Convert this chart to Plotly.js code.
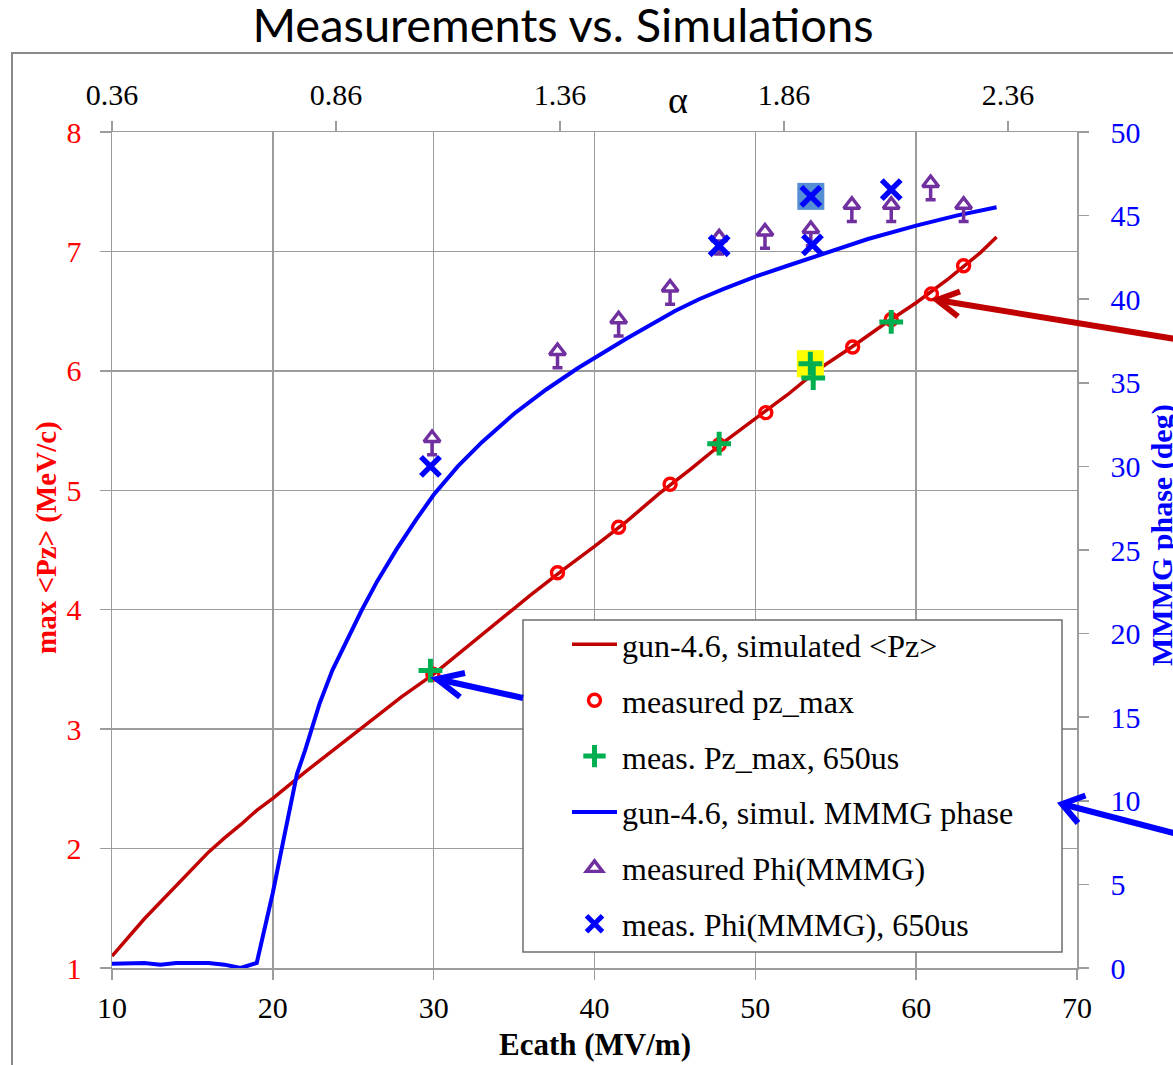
<!DOCTYPE html>
<html>
<head>
<meta charset="utf-8">
<script src="https://cdn.plot.ly/plotly-3.0.1.min.js"></script>
<style>
  html, body { margin: 0; padding: 0; background: #ffffff; }
  #chart { width: 1173px; height: 1065px; }
</style>
</head>
<body>
<div id="chart"></div>
<script>
// ---------------- data ----------------
const simE      = [10, 11, 12, 13, 14, 15, 16, 17, 18, 19, 20, 22, 24, 26, 28, 30, 32, 34, 36, 38, 40, 42, 44, 46, 48, 50, 52, 54, 56, 58, 60, 62, 64, 65];
const simPz     = [1.10, 1.26, 1.41, 1.55, 1.69, 1.83, 1.97, 2.09, 2.20, 2.32, 2.42, 2.64, 2.85, 3.06, 3.27, 3.46, 3.68, 3.90, 4.12, 4.33, 4.53, 4.74, 4.97, 5.18, 5.40, 5.60, 5.80, 6.02, 6.20, 6.39, 6.57, 6.77, 6.99, 7.12];

const simPhaseE = [10, 11, 12, 13, 14, 15, 16, 17, 18, 19, 20, 20.65, 21.5, 22, 22.9, 23.7, 24.6, 25.5, 26.5, 27.7, 28.9, 30, 31.5, 33, 35, 37, 39, 42, 45, 46.5, 48, 50, 52, 54.5, 57, 60, 62.5, 65];
const simPhase  = [0.25, 0.3, 0.3, 0.2, 0.3, 0.3, 0.3, 0.2, 0.0, 0.3, 4.5, 7.6, 11.6, 13.0, 15.8, 17.8, 19.6, 21.35, 23.15, 25.05, 26.8, 28.3, 30.0, 31.45, 33.15, 34.6, 35.9, 37.65, 39.3, 40.0, 40.6, 41.35, 42.0, 42.8, 43.6, 44.4, 45.0, 45.5];

const measPzE   = [29.95, 37.7, 41.5, 44.7, 47.75, 50.65, 56.05, 58.45, 60.95, 62.95];
const measPz    = [3.46, 4.31, 4.69, 5.05, 5.38, 5.65, 6.20, 6.43, 6.645, 6.88];

const meas650PzE = [29.8, 47.75, 53.42, 53.6, 58.45];
const meas650Pz  = [3.49, 5.39, 6.06, 5.94, 6.41];

const measPhiE     = [29.9, 37.7, 41.5, 44.7, 47.75, 50.6, 53.45, 56.0, 58.45, 60.9, 62.95];
const measPhi      = [31.7, 36.9, 38.8, 40.7, 43.7, 44.05, 44.2, 45.65, 45.65, 46.95, 45.65];
const measPhiErrLo = [1.0, 1.0, 1.0, 1.0, 1.0, 1.0, 1.0, 1.0, 1.0, 1.0, 1.0];

const meas650PhiE = [29.8, 47.75, 53.45, 53.55, 58.45];
const meas650Phi  = [30.0, 43.2, 46.15, 43.25, 46.55];

const highlightPzIndex  = 2;   // yellow box behind one "+"
const highlightPhiIndex = 2;   // blue box behind one "x"

const xRange      = [10, 70];
const pzRange     = [1, 8];
const phaseRange  = [0, 50];
const alphaRange  = [0.36, 2.514];
const alphaTicks  = [0.36, 0.86, 1.36, 1.86, 2.36];
const alphaLabels = ['0.36', '0.86', '1.36', '1.86', '2.36'];

const seriesNames = [
  'gun-4.6, simulated <Pz>',
  'measured pz_max',
  'meas. Pz_max, 650us',
  'gun-4.6, simul. MMMG phase',
  'measured Phi(MMMG)',
  'meas. Phi(MMMG), 650us'
];

// ---------------- styling ----------------
const SERIF = 'Liberation Serif';
const GRID = '#9c9c9c';
const RED_LINE = '#c00000';
const RED = '#ff0000';
const GREEN = '#00b050';
const BLUE = '#0000ff';
const PURPLE = '#7030a0';

// plot-area pixel frame (for decorations)
const L = 112, R = 1077, T = 132, B = 968;
const px = (x) => (x - L) / (R - L);
const py = (y) => (B - y) / (B - T);

const traces = [
  { x: simE, y: simPz, type: 'scatter', mode: 'lines', name: seriesNames[0],
    line: { color: RED_LINE, width: 3.5 }, xaxis: 'x', yaxis: 'y', legendgroup: 'g1' },
  { x: measPzE, y: measPz, type: 'scatter', mode: 'markers', name: seriesNames[1],
    marker: { symbol: 'circle-open', size: 12, color: RED, line: { color: RED, width: 3.4 } },
    xaxis: 'x', yaxis: 'y', legendgroup: 'g2' },
  { x: [meas650PzE[highlightPzIndex]], y: [meas650Pz[highlightPzIndex]], type: 'scatter', mode: 'markers',
    marker: { symbol: 'square', size: 27, color: '#ffff00' }, showlegend: false, hoverinfo: 'skip',
    xaxis: 'x', yaxis: 'y' },
  { x: meas650PzE, y: meas650Pz, type: 'scatter', mode: 'markers', name: seriesNames[2],
    marker: { symbol: 'cross-thin-open', size: 17, color: GREEN, line: { color: GREEN, width: 5 } },
    xaxis: 'x', yaxis: 'y', legendgroup: 'g3' },
  { x: simPhaseE, y: simPhase, type: 'scatter', mode: 'lines', name: seriesNames[3],
    line: { color: BLUE, width: 4 }, xaxis: 'x', yaxis: 'y2', legendgroup: 'g4' },
  { x: measPhiE, y: measPhi, type: 'scatter', mode: 'markers', name: seriesNames[4],
    marker: { symbol: 'triangle-up', size: 14, color: '#ffffff', line: { color: PURPLE, width: 3.4 } },
    error_y: { type: 'data', symmetric: false, array: measPhiE.map(() => 0), arrayminus: measPhiErrLo,
               color: PURPLE, thickness: 3.5, width: 5 },
    xaxis: 'x', yaxis: 'y2', legendgroup: 'g5' },
  { x: [meas650PhiE[highlightPhiIndex]], y: [meas650Phi[highlightPhiIndex]], type: 'scatter', mode: 'markers',
    marker: { symbol: 'square', size: 27, color: '#558ed5' }, showlegend: false, hoverinfo: 'skip',
    xaxis: 'x', yaxis: 'y2' },
  { x: meas650PhiE, y: meas650Phi, type: 'scatter', mode: 'markers', name: seriesNames[5],
    marker: { symbol: 'x-thin-open', size: 19, color: BLUE, line: { color: BLUE, width: 5.5 } },
    xaxis: 'x', yaxis: 'y2', legendgroup: 'g6' },
  { x: alphaRange, y: [null, null], type: 'scatter', mode: 'markers', showlegend: false, hoverinfo: 'skip',
    xaxis: 'x2', yaxis: 'y' }
];

const arrow = (tail, tip, w1, w2, color, width) => ([
  { type: 'path', xref: 'paper', yref: 'paper', layer: 'above',
    path: `M${px(tail[0])},${py(tail[1])} L${px(tip[0])},${py(tip[1])}`,
    line: { color: color, width: width } },
  { type: 'path', xref: 'paper', yref: 'paper', layer: 'above',
    path: `M${px(w1[0])},${py(w1[1])} L${px(tip[0])},${py(tip[1])} L${px(w2[0])},${py(w2[1])}`,
    line: { color: color, width: width } }
]);

const shapes = [
  // outer frame of the slide picture
  { type: 'rect', xref: 'paper', yref: 'paper', layer: 'above',
    x0: px(12), x1: px(1190), y0: py(1080), y1: py(53),
    line: { color: '#8a8a8a', width: 2 }, fillcolor: 'rgba(0,0,0,0)' },
  // legend box
  { type: 'rect', xref: 'paper', yref: 'paper', layer: 'above',
    x0: px(523), x1: px(1062), y0: py(952), y1: py(620),
    line: { color: '#6e6e6e', width: 1.5 }, fillcolor: '#ffffff' },
  ...arrow([1200, 343], [937, 300], [960, 291.5], [958, 316.5], RED_LINE, 6),
  ...arrow([523, 698], [437, 679], [465, 673], [460, 697], BLUE, 6),
  ...arrow([1200, 840], [1062, 804], [1085.5, 795.5], [1078, 823], BLUE, 6)
];

const layout = {
  width: 1173, height: 1065,
  margin: { l: L, r: 1173 - R, t: T, b: 1065 - B, pad: 0 },
  paper_bgcolor: '#ffffff', plot_bgcolor: '#ffffff',
  showlegend: true,
  title: { text: 'Measurements vs. Simulations', xref: 'container', yref: 'container',
           x: 563 / 1173, y: 1 - 26 / 1065, xanchor: 'center', yanchor: 'middle',
           font: { family: 'Lato', size: 47, color: '#000000' } },
  xaxis: { range: xRange, dtick: 10, tick0: 10, showgrid: true, gridcolor: GRID, gridwidth: 1.5,
           zeroline: false, showline: true, linecolor: GRID, linewidth: 1.5, mirror: true,
           ticks: 'outside', ticklen: 10, tickcolor: GRID, tickwidth: 1.5, ticklabelstandoff: 2,
           tickfont: { family: SERIF, size: 30, color: '#000000' } },
  xaxis2: { range: alphaRange, overlaying: 'x', side: 'top', anchor: 'y',
            tickvals: alphaTicks, ticktext: alphaLabels, showgrid: false, zeroline: false, showline: false,
            ticks: 'outside', ticklen: 10, tickcolor: GRID, tickwidth: 1.5, ticklabelstandoff: 4,
            tickfont: { family: SERIF, size: 30, color: '#000000' } },
  yaxis: { range: pzRange, dtick: 1, tick0: 1, showgrid: true, gridcolor: GRID, gridwidth: 1.5,
           zeroline: false, showline: true, linecolor: GRID, linewidth: 1.5, mirror: true,
           ticks: 'outside', ticklen: 11, tickcolor: GRID, tickwidth: 1.5, ticklabelstandoff: 12,
           tickfont: { family: SERIF, size: 30, color: RED } },
  yaxis2: { range: phaseRange, dtick: 5, tick0: 0, overlaying: 'y', side: 'right', anchor: 'x',
            showgrid: false, zeroline: false, showline: true, linecolor: GRID, linewidth: 1.5,
            ticks: 'outside', ticklen: 10, tickcolor: GRID, tickwidth: 1.5, ticklabelstandoff: 16,
            tickfont: { family: SERIF, size: 30, color: BLUE } },
  legend: { x: px(567), y: py(617), xanchor: 'left', yanchor: 'top',
            bgcolor: 'rgba(0,0,0,0)', borderwidth: 0, tracegroupgap: 11.3, itemwidth: 45,
            font: { family: SERIF, size: 32, color: '#000000' } },
  shapes: shapes,
  annotations: [
    { text: 'α', xref: 'paper', yref: 'paper', x: px(678), y: py(100), showarrow: false,
      xanchor: 'center', yanchor: 'middle', font: { family: SERIF, size: 38, color: '#000000' } },
    { text: '<b>Ecath (MV/m)</b>', xref: 'paper', yref: 'paper', x: 0.5, y: py(1044), showarrow: false,
      xanchor: 'center', yanchor: 'middle', font: { family: SERIF, size: 31, color: '#000000' } },
    { text: '<b>max <Pz> (MeV/c)</b>', xref: 'paper', yref: 'paper', x: px(46), y: py(538), showarrow: false,
      textangle: -90, xanchor: 'center', yanchor: 'middle', font: { family: SERIF, size: 29, color: RED } },
    { text: '<b>MMMG phase (deg)</b>', xref: 'paper', yref: 'paper', x: px(1162), y: py(535), showarrow: false,
      textangle: -90, xanchor: 'center', yanchor: 'middle', font: { family: SERIF, size: 30, color: BLUE } }
  ]
};

Plotly.newPlot('chart', traces, layout, { displayModeBar: false, staticPlot: true });
</script>
</body>
</html>
